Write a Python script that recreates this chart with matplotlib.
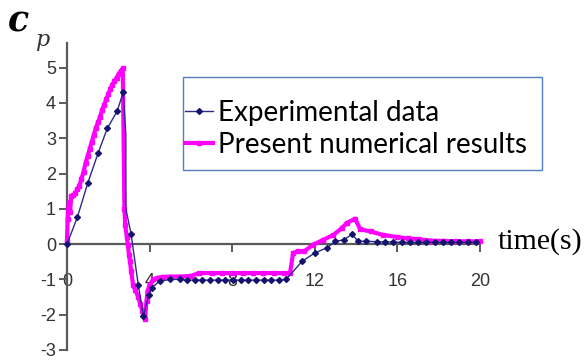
import matplotlib
matplotlib.use('Agg')
import matplotlib.pyplot as plt
from matplotlib.patches import Rectangle

# ── data ─────────────────────────────────────────────────────────────────────
exp_t = [0.0, 0.5, 1.0, 1.5, 1.95, 2.43, 2.72, 2.85, 2.85, 3.1, 3.45, 3.7,
         3.95, 4.1, 4.5, 5.0, 5.45, 5.82, 6.19, 6.56, 6.93, 7.3, 7.67, 8.04,
         8.41, 8.78, 9.15, 9.52, 9.89, 10.26, 10.6, 11.4, 12.0, 12.6, 13.0,
         13.4, 13.8, 14.1, 14.5, 15.0, 15.4, 15.8, 16.2, 16.6, 17.0, 17.4,
         17.8, 18.2, 18.6, 19.0, 19.4, 19.8]
exp_cp = [0.0, 0.76, 1.72, 2.57, 3.28, 3.77, 4.3, 3.1, 1.0, 0.3, -1.15, -2.05,
          -1.45, -1.23, -1.05, -1.0, -1.0, -1.02, -1.02, -1.02, -1.02, -1.02,
          -1.02, -1.02, -1.02, -1.02, -1.02, -1.02, -1.02, -1.02, -1.0, -0.48,
          -0.25, -0.1, 0.08, 0.12, 0.28, 0.08, 0.08, 0.07, 0.06, 0.06, 0.05,
          0.05, 0.05, 0.05, 0.05, 0.05, 0.05, 0.05, 0.05, 0.05]
# the vertical drop after the peak carries no markers
exp_marked = [i for i in range(len(exp_t)) if i not in (7, 8)]

num_t = [0.0, 0.03, 0.06, 0.1, 0.15, 0.2, 0.3, 0.4, 0.5, 0.6, 0.7, 0.8, 0.9,
         1.0, 1.1, 1.2, 1.3, 1.4, 1.5, 1.6, 1.7, 1.8, 1.9, 2.0, 2.1, 2.2, 2.3,
         2.4, 2.5, 2.6, 2.7, 2.78, 2.82, 2.9, 2.95, 3.0, 3.05, 3.1, 3.2, 3.3,
         3.45, 3.55, 3.65, 3.72, 3.78, 3.85, 3.9, 4.0, 4.17, 4.4, 4.65, 5.0,
         5.5, 6.0, 6.4, 7.0, 7.5, 8.0, 8.5, 9.0, 9.5, 10.0, 10.5, 10.8, 10.95,
         11.2, 11.5, 11.9, 12.4, 12.9, 13.3, 13.55, 13.95, 14.2, 14.7, 15.3,
         16.0, 16.5, 17.0, 17.6, 18.2, 18.8, 19.4, 20.0]
num_cp = [0.1, 0.7, 1.0, 1.2, 0.9, 1.35, 1.38, 1.45, 1.55, 1.66, 1.85, 2.05,
          2.3, 2.5, 2.7, 2.9, 3.1, 3.3, 3.45, 3.6, 3.8, 3.95, 4.1, 4.25, 4.4,
          4.52, 4.62, 4.72, 4.82, 4.9, 4.98, 1.0, 0.53, 0.2, -0.03, -0.3, -0.48,
          -0.75, -1.15, -1.3, -1.5, -1.7, -1.9, -2.0, -2.12, -1.6, -1.33, -1.15,
          -1.0, -0.95, -0.93, -0.92, -0.92, -0.9, -0.82, -0.82, -0.82, -0.82,
          -0.82, -0.82, -0.82, -0.82, -0.82, -0.82, -0.25, -0.2, -0.2, -0.02,
          0.12, 0.26, 0.45, 0.6, 0.72, 0.42, 0.36, 0.26, 0.2, 0.16, 0.14, 0.1,
          0.09, 0.08, 0.08, 0.08]

x_ticks = [0, 4, 8, 12, 16, 20]
y_ticks = [-3, -2, -1, 0, 1, 2, 3, 4, 5]

NAVY = '#14146e'
MAGENTA = '#ff00ff'
AXIS = '#5a5a5a'

fig = plt.figure(figsize=(5.85, 3.6), dpi=100)
ax = fig.add_axes([67 / 585, 10 / 360, 413 / 585, 307 / 360])

ax.plot(num_t, num_cp, color=MAGENTA, lw=3.0, marker='s', ms=3.0,
        mec=MAGENTA, clip_on=False, zorder=3, label='Present numerical results')
ax.plot(exp_t, exp_cp, color='#2a2a8a', lw=1.0, marker='D', ms=3.0,
        mfc=NAVY, mec=NAVY, markevery=exp_marked, clip_on=False, zorder=4,
        label='Experimental data')

ax.set_xlim(0, 20)
ax.set_ylim(-3, 5.7)
ax.spines['left'].set_position(('data', 0))
ax.spines['bottom'].set_position(('data', 0))
for s in ('top', 'right'):
    ax.spines[s].set_visible(False)
for s in ('left', 'bottom'):
    ax.spines[s].set_color(AXIS)
    ax.spines[s].set_linewidth(1.6)

ax.set_xticks(x_ticks)
ax.set_yticks(y_ticks)
ax.set_yticklabels([str(v) for v in y_ticks])
ax.tick_params(axis='both', colors=AXIS, width=1.4, length=6, direction='out',
               labelsize=13, labelcolor='#333333', labelfontfamily='Liberation Sans')
ax.tick_params(axis='x', pad=15)
ax.tick_params(axis='y', pad=2)
ax.patch.set_visible(False)

# legend with a hand-drawn frame
h, l = ax.get_legend_handles_labels()
leg = fig.legend(h[::-1], l[::-1], loc='upper left',
                 bbox_to_anchor=(185 / 585, 1 - 100 / 360), frameon=False,
                 borderpad=0, borderaxespad=0, handlelength=1.0,
                 handletextpad=0.2, labelspacing=0.2,
                 prop={'family': 'Lato', 'size': 20})
fig.patches.append(Rectangle((183 / 585, 1 - 170 / 360), 359 / 585, 93 / 360,
                             transform=fig.transFigure, fill=False,
                             edgecolor='#4f81bd', lw=1.0))

fig.text(18 / 585, 1 - 22 / 360, 'c', family='DejaVu Serif', weight='bold',
         style='italic', size=25, ha='center', va='center')
fig.text(42 / 585, 1 - 40 / 360, 'p', family='DejaVu Serif', style='italic',
         size=16, ha='center', va='center', color='#333333')
fig.text(498 / 585, 1 - 242 / 360, 'time(s)', family='Liberation Serif',
         size=21.5, ha='left', va='center')

fig.savefig('out.png', dpi=100)
